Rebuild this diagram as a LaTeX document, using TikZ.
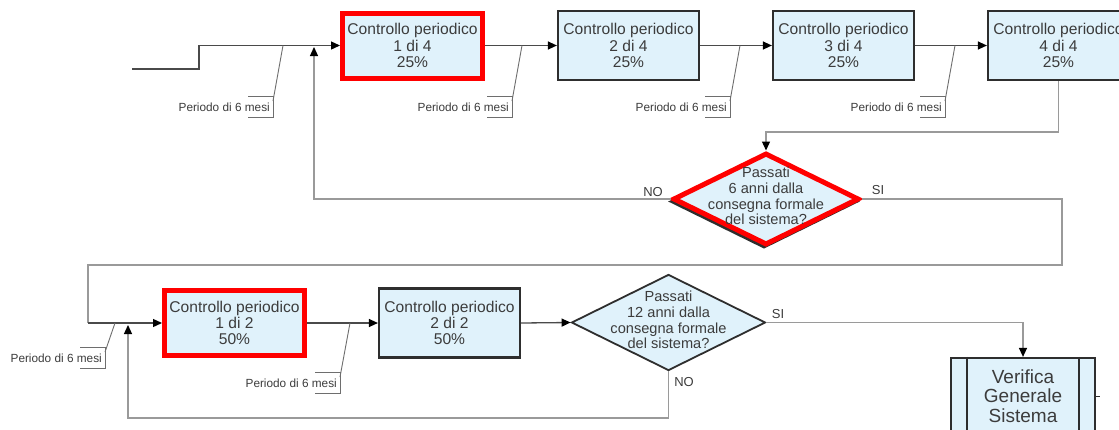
\documentclass[tikz,border=0pt]{standalone}
\usepackage{fontspec}
\setmainfont{Liberation Sans}
\usetikzlibrary{arrows.meta,shapes.geometric,calc}
\definecolor{boxfill}{HTML}{E0F2FB}
\definecolor{boxline}{HTML}{2E2E2E}
\definecolor{flowc}{HTML}{4A4A4A}
\definecolor{loopc}{HTML}{9A9A9A}
\definecolor{txt}{HTML}{3C3C3C}
\definecolor{hl}{HTML}{FF0000}
\newcommand{\periodnote}[4]{%
  \coordinate (#1a) at (#2,#3);
  \coordinate (#1b) at (#2-10,#4+5);
  \coordinate (#1c) at (#2-35,#4);
  \coordinate (#1d) at (#2-10,#4);
  \coordinate (#1e) at (#2-10,#4+21);
  \coordinate (#1f) at (#2-35,#4+21);
  \node[per] (#1t) at (#2-13,#4+11) {Periodo di 6 mesi};
  \draw[note] (#1a) -- (#1b);
  \draw[note] (#1c) -- (#1d) -- (#1e) -- (#1f);
}
\begin{document}
\begin{tikzpicture}[x=1pt,y=-1pt,
  box/.style={draw=boxline, line width=2.2pt, fill=boxfill, minimum width=141pt,
    minimum height=69pt, inner sep=0pt, align=center, text=txt,
    font=\fontsize{15.6}{16.2}\selectfont},
  redbox/.style={box, draw=hl, line width=5pt, minimum width=140pt, minimum height=65pt},
  dia/.style={diamond, draw=boxline, line width=1.8pt, fill=boxfill,
    minimum width=194pt, minimum height=96pt, inner sep=0pt},
  reddia/.style={dia, draw=hl, line width=5pt, minimum width=186pt, minimum height=92pt},
  diashadow/.style={diamond, draw=boxline, line width=3pt, fill=boxline,
    minimum width=186pt, minimum height=92pt, inner sep=0pt},
  dtext/.style={align=center, text=txt, inner sep=0pt, font=\fontsize{14.6}{15.6}\selectfont},
  vbox/.style={draw=boxline, line width=2.2pt, fill=boxfill, minimum width=144pt,
    minimum height=76pt, inner sep=0pt, align=center, text=txt,
    font=\fontsize{19}{19.5}\selectfont},
  flow/.style={draw=flowc, line width=1.3pt},
  loopl/.style={draw=loopc, line width=1.3pt},
  tip/.style={-{Triangle[length=9pt,width=8pt,color=black]}},
  note/.style={draw=flowc!80, line width=0.9pt},
  per/.style={anchor=east, inner sep=0pt, text=txt, font=\fontsize{11.8}{12}\selectfont},
  lab/.style={inner sep=0pt, text=txt, font=\fontsize{13}{14}\selectfont}
]
\useasboundingbox (0,0) rectangle (1119,429);
\clip (0,0) rectangle (1119,429);
\fill[white] (0,0) rectangle (1119,429);

% top row
\node[redbox] (c1) at (412.5,45.5) {Controllo periodico\\1 di 4\\25\%};
\node[box] (c2) at (628.5,45.5) {Controllo periodico\\2 di 4\\25\%};
\node[box] (c3) at (843.5,45.5) {Controllo periodico\\3 di 4\\25\%};
\node[box] (c4) at (1058.5,45.5) {Controllo periodico\\4 di 4\\25\%};

\coordinate (s0) at (132,69);
\coordinate (j1) at (314,47);
\draw[flow,tip] (s0) -| (199,45.5) -- (c1.west);
\draw[flow,tip] (c1.east) -- (c2.west);
\draw[flow,tip] (c2.east) -- (c3.west);
\draw[flow,tip] (c3.east) -- (c4.west);

\periodnote{pa}{283}{45.5}{96}
\periodnote{pb}{522}{45.5}{96}
\periodnote{pc}{740}{45.5}{96}
\periodnote{pd}{955}{45.5}{96}

% decision 1
\node[diashadow] (d1s) at (764,201.5) {};
\node[reddia] (d1) at (766,199) {};
\node[dtext] (d1t) at (766,196) {Passati\\6 anni dalla\\consegna formale\\del sistema?};
\draw[loopl,tip] (c4.south) -- ++(0,51) -| (d1.north);
\draw[loopl,tip] (d1.west) -| (j1);
\node[lab] (no1) at (653,192) {NO};
\node[lab] (si1) at (878,190) {SI};

% bottom row
\node[redbox] (c5) at (234.5,323) {Controllo periodico\\1 di 2\\50\%};
\node[box] (c6) at (449.5,323) {Controllo periodico\\2 di 2\\50\%};
\draw[loopl] (d1.east) -| (1062,265) -| (88,323);
\coordinate (k1) at (88,323);
\draw[flow,tip] (k1) -- (c5.west);
\draw[flow,tip] (c5.east) -- (c6.west);

\node[dia] (d2) at (668.5,322.5) {};
\node[dtext] (d2t) at (668.5,320) {Passati\\12 anni dalla\\consegna formale\\del sistema?};
\draw[flow,tip] (c6.east) -- (d2.west);

\node[vbox] (v) at (1023,396) {Verifica\\Generale\\Sistema};
\draw[boxline, line width=2pt] ([xshift=17pt]v.north west) -- ([xshift=17pt]v.south west);
\draw[boxline, line width=2pt] ([xshift=-17pt]v.north east) -- ([xshift=-17pt]v.south east);
\draw[boxline, line width=1pt] (v.east) -- ++(4,0);

\draw[loopl,tip] (d2.east) -| (v.north);
\node[lab] (si2) at (778,314) {SI};
\coordinate (j2) at (128,325);
\draw[loopl,tip] (d2.south) -- (668.5,418) -| (j2);
\node[lab] (no2) at (684,382) {NO};

\periodnote{pe}{115}{323}{347}
\periodnote{pf}{350}{323}{372}
\end{tikzpicture}
\end{document}
